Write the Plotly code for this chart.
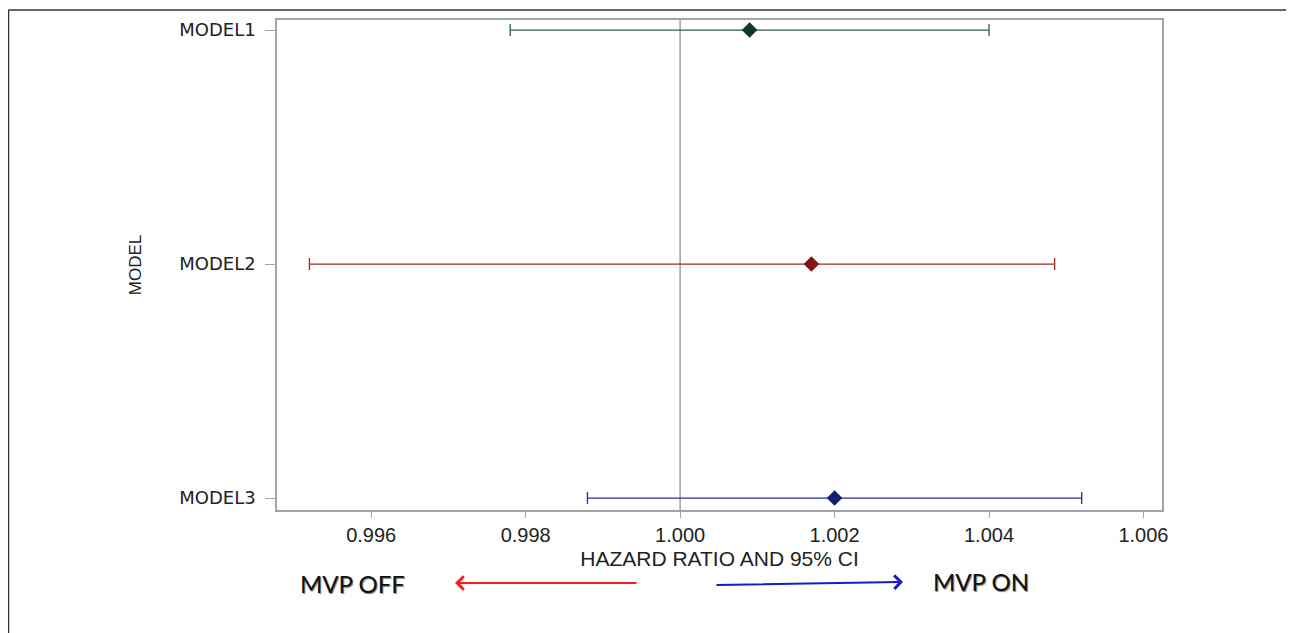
import plotly.graph_objects as go

models = ["MODEL1", "MODEL2", "MODEL3"]
hr = [1.0009, 1.0017, 1.0020]
lower = [0.9978, 0.9952, 0.9988]
upper = [1.0040, 1.00485, 1.0052]
line_colors = ["#2f5f52", "#9b2a2a", "#2a2f8f"]
marker_colors = ["#0c3b2e", "#7f1414", "#14206e"]
x_ticks = [0.996, 0.998, 1.000, 1.002, 1.004, 1.006]

W, H = 1294, 633
OFF = 8  # page body margin
# plot area in page pixels
L, R, T, B = 277, 1162, 20, 510

fig = go.Figure()
for i, m in enumerate(models):
    fig.add_trace(go.Scatter(
        x=[hr[i]], y=[i + 1], mode="markers",
        marker=dict(symbol="diamond", size=12, color=marker_colors[i]),
        error_x=dict(type="data", symmetric=False,
                     array=[upper[i] - hr[i]], arrayminus=[hr[i] - lower[i]],
                     color=line_colors[i], thickness=1.3, width=6),
        showlegend=False, name=m,
    ))

fig.add_vline(x=1.0, line=dict(color="#a0a0a0", width=1.5), layer="below")

def px_x(p):
    return (p - L) / (R - L)

def px_y(p):
    return (B - p) / (B - T)

# outer frame lines
fig.add_shape(type="line", xref="paper", yref="paper",
              x0=px_x(OFF + 0.5), x1=px_x(W + OFF), y0=px_y(10), y1=px_y(10),
              line=dict(color="#333333", width=1.5))
fig.add_shape(type="line", xref="paper", yref="paper",
              x0=px_x(OFF + 0.5), x1=px_x(OFF + 0.5), y0=px_y(10), y1=px_y(H + OFF),
              line=dict(color="#333333", width=1.5))

# direction arrows
fig.add_annotation(xref="paper", yref="paper", x=px_x(455), y=px_y(583),
                   ax=183, ay=0, axref="pixel", ayref="pixel",
                   text="", showarrow=True, arrowhead=4, arrowsize=1.3,
                   arrowwidth=2, arrowcolor="#ff1a1a")
fig.add_annotation(xref="paper", yref="paper", x=px_x(903), y=px_y(582),
                   ax=-188, ay=3, axref="pixel", ayref="pixel",
                   text="", showarrow=True, arrowhead=4, arrowsize=1.3,
                   arrowwidth=2, arrowcolor="#1a1acc")
mvp_font = dict(family="Lato, Liberation Sans, Arial", size=24, color="#111111",
                shadow="1px 1px 1px #777777")
fig.add_annotation(xref="paper", yref="paper", x=px_x(352), y=px_y(583),
                   xanchor="center", yanchor="middle",
                   text="MVP OFF", showarrow=False, font=mvp_font)
fig.add_annotation(xref="paper", yref="paper", x=px_x(981), y=px_y(581),
                   xanchor="center", yanchor="middle",
                   text="MVP ON", showarrow=False, font=mvp_font)

axis_line = "#a0a4a8"
fig.update_layout(
    width=W, height=H,
    margin=dict(l=L - OFF, r=W - (R - OFF), t=T - OFF, b=H - (B - OFF), autoexpand=False),
    plot_bgcolor="white", paper_bgcolor="white",
    xaxis=dict(
        range=[0.99478, 1.00624], tickvals=x_ticks,
        ticktext=[f"{v:.3f}" for v in x_ticks],
        showgrid=False, zeroline=False,
        showline=True, linecolor=axis_line, linewidth=1.5, mirror=True,
        ticks="outside", ticklen=6, tickcolor=axis_line,
        tickfont=dict(family="Liberation Sans, Arial", size=20, color="#222222"),
        title=dict(text="HAZARD RATIO AND 95% CI", standoff=7,
                   font=dict(family="Liberation Sans, Arial", size=21, color="#222222")),
    ),
    yaxis=dict(
        range=[3.051, 0.957], tickvals=[1, 2, 3], ticktext=models,
        showgrid=False, zeroline=False,
        showline=True, linecolor=axis_line, linewidth=1.5, mirror=True,
        ticks="outside", ticklen=10, tickcolor=axis_line, ticklabelstandoff=6,
        tickfont=dict(family="DejaVu Sans, Liberation Sans", size=18, color="#222222"),
        title=dict(text="MODEL", standoff=33,
                   font=dict(family="Liberation Sans, Arial", size=17, color="#222222")),
    ),
)

fig.write_html("out.html")
